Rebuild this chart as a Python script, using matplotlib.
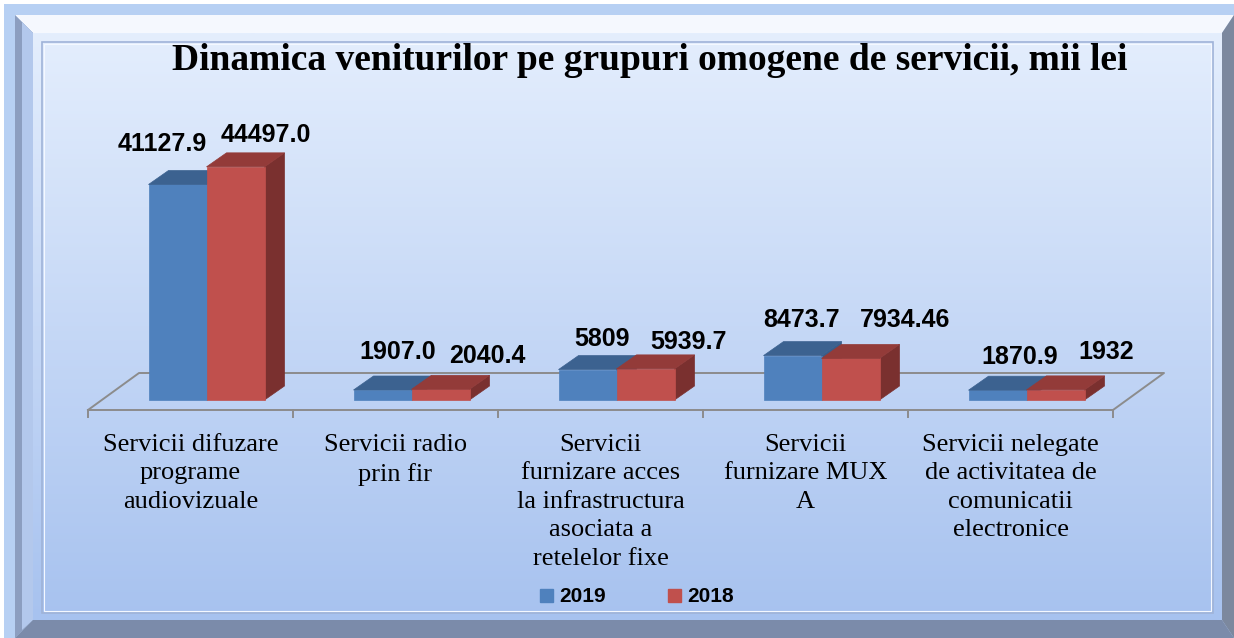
import numpy as np
import matplotlib.pyplot as plt
from matplotlib.patches import Polygon, Rectangle, Patch
from matplotlib.colors import LinearSegmentedColormap

title = "Dinamica veniturilor pe grupuri omogene de servicii, mii lei"
categories = ["Servicii difuzare\nprograme\naudiovizuale",
              "Servicii radio\nprin fir",
              "Servicii\nfurnizare acces\nla infrastructura\nasociata a\nretelelor fixe",
              "Servicii\nfurnizare MUX\nA",
              "Servicii nelegate\nde activitatea de\ncomunicatii\nelectronice"]
series = ["2019", "2018"]
v2019 = [41127.9, 1907.0, 5809, 8473.7, 1870.9]
v2018 = [44497.0, 2040.4, 5939.7, 7934.46, 1932]
lab2019 = ["41127.9", "1907.0", "5809", "8473.7", "1870.9"]
lab2018 = ["44497.0", "2040.4", "5939.7", "7934.46", "1932"]

# label placement (px): shift from bar front centre, height above bar top
off2019 = [(-15, 42), (15, 40), (15, 33), (9, 38), (22, 35)]
off2018 = [(30, 34), (47, 35), (43, 29), (55, 40), (51, 40)]

W, H = 1234, 638
fig = plt.figure(figsize=(W / 100, H / 100), dpi=100)
fig.patch.set_facecolor('white')

# ---- background frame (pixel coords) ----
bg = fig.add_axes([0, 0, 1, 1])
bg.set_xlim(0, W)
bg.set_ylim(H, 0)
bg.axis('off')

bg.add_patch(Rectangle((4, 4), W, H, color='#B7D0F3', lw=0))
bg.add_patch(Polygon([(15, 15), (W, 15), (1222, 33), (33, 33)], color='#F5F8FE', lw=0))
bg.add_patch(Polygon([(15, 15), (33, 33), (33, 620), (15, H)], color='#8C9EC0', lw=0))
bg.add_patch(Polygon([(22, 22), (33, 33), (33, 620), (22, 630)], color='#B3C8EC', lw=0))
bg.add_patch(Polygon([(W, 15), (1222, 33), (1222, 620), (W, H)], color='#7C889E', lw=0))
bg.add_patch(Polygon([(15, H), (33, 620), (1222, 620), (W, H)], color='#7B8BAA', lw=0))

cmap = LinearSegmentedColormap.from_list('panel', ['#E4EEFD', '#A7C2EF'])
grad = np.linspace(0, 1, 256).reshape(-1, 1)
bg.imshow(grad, extent=(33, 1222, 620, 33), aspect='auto', cmap=cmap, zorder=1)
bg.add_patch(Rectangle((42, 42), 1213 - 42, 613 - 42, fill=False, ec='#9FB3D8', lw=1.2, zorder=2))
bg.add_patch(Rectangle((44, 44), 1211 - 44, 611 - 44, fill=False, ec='#F4F8FF', lw=0.8, zorder=2))

bg.text(650, 70, title, ha='center', va='baseline', family='Liberation Serif',
        weight='bold', size=27, zorder=3)

# ---- chart axes ----
ax = fig.add_axes([88 / W, (H - 410) / H, 1025 / W, 262 / H])
ax.set_xlim(0, len(categories))
ax.set_ylim(0, 50000)
ax.axis('off')
ax.patch.set_alpha(0)

sx = len(categories) / 1025.0
sy = 50000 / 262.0
gray = '#8C8C8C'

# floor
fdx, fdy = 51 * sx, 37 * sy
n = len(categories)
ax.plot([0, n, n + fdx, fdx, 0], [0, 0, fdy, fdy, 0], color=gray, lw=1.4, clip_on=False, zorder=1)
for k in range(n + 1):
    ax.plot([k, k], [0, -7 * sy], color=gray, lw=1.4, clip_on=False, zorder=1)

bw = 58 * sx
y0 = 10 * sy
ddx, ddy = 20 * sx, 14 * sy


def bar3d(x0, h, front, top, side):
    x1 = x0 + bw
    y1 = y0 + h
    ax.add_patch(Polygon([(x1, y0), (x1 + ddx, y0 + ddy), (x1 + ddx, y1 + ddy), (x1, y1)],
                         fc=side, ec=side, lw=0.5, clip_on=False, zorder=2))
    ax.add_patch(Rectangle((x0, y0), bw, h, fc=front, ec=front, lw=0.5, clip_on=False, zorder=2))
    ax.add_patch(Polygon([(x0, y1), (x1, y1), (x1 + ddx, y1 + ddy), (x0 + ddx, y1 + ddy)],
                         fc=top, ec=top, lw=0.5, clip_on=False, zorder=2))


lab_font = dict(family='Liberation Sans', weight='bold', size=18)
for i in range(n):
    base = i + 0.5 + 16 * sx
    bar3d(base - bw, v2019[i], '#4F81BD', '#3C6290', '#385D8A')
    bar3d(base, v2018[i], '#C0504D', '#933B39', '#7A302F')
    dx, dy = off2019[i]
    ax.text(base - bw / 2 + dx * sx, y0 + v2019[i] + (dy - 9) * sy, lab2019[i],
            ha='center', va='baseline', zorder=3, clip_on=False, **lab_font)
    dx, dy = off2018[i]
    ax.text(base + bw / 2 + dx * sx, y0 + v2018[i] + (dy - 9) * sy, lab2018[i],
            ha='center', va='baseline', zorder=3, clip_on=False, **lab_font)
    ax.text(i + 0.5, -24 * sy, categories[i], ha='center', va='top', family='Liberation Serif',
            size=19, linespacing=1.38, clip_on=False)

handles = [Patch(color='#4F81BD'), Patch(color='#C0504D')]
fig.legend(handles, series, loc='center', bbox_to_anchor=(637 / W, 1 - 597 / H), ncol=2,
           frameon=False, prop=dict(family='Liberation Sans', weight='bold', size=15),
           handlelength=0.6, handleheight=0.6, handletextpad=0.3, columnspacing=3.0)

plt.savefig('out.png', dpi=100)
